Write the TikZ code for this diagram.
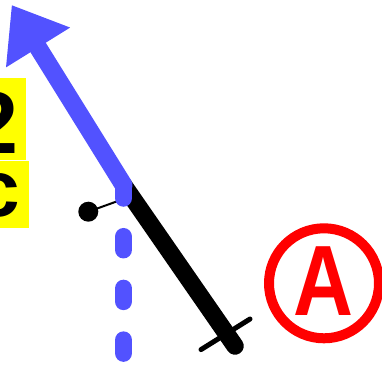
\documentclass[tikz,border=0pt]{standalone}
\usepackage{fontspec}
\newfontfamily\lsans{Liberation Sans}
\usetikzlibrary{arrows.meta}
\definecolor{myblue}{RGB}{82,82,255}
\definecolor{myyellow}{RGB}{255,255,0}
\definecolor{myred}{RGB}{255,0,0}
\begin{document}
\begin{tikzpicture}[x=1pt,y=-1pt,
  thickblack/.style={line width=17.5pt, line cap=round, draw=black},
  tickline/.style={line width=5pt, line cap=round, draw=black},
  bluedash/.style={line width=17.5pt, line cap=round, draw=myblue, dash pattern=on 13pt off 38.7pt},
  bluearrow/.style={line width=18pt, line cap=round, draw=myblue, fill=myblue,
     -{Triangle[length=50pt,width=72pt]}},
  ylabel/.style={fill=myyellow, inner ysep=0pt, anchor=base east, text=black},
]
\useasboundingbox (0,0) rectangle (382,369);
\clip (0,0) rectangle (382,369);
% coordinates
\coordinate (top) at (123.5,185);
\coordinate (bot) at (235,346);
\coordinate (t1) at (201,349.6);
\coordinate (t2) at (250,319);
\coordinate (dashend) at (123.5,354);
\coordinate (tip) at (11.7,5);
\coordinate (p) at (123.5,199);
% black line and tick
\draw[thickblack] (top) -- (bot);
\draw[tickline] (t1) -- (t2);
% small dot with thin line
\node[circle, fill=black, minimum size=20pt, inner sep=0pt] (dot) at (88.3,211.7) {};
\draw[line width=2pt] (dot.center) -- (p);
% blue dashed vertical and blue arrow
\draw[bluedash] (top) -- (dashend);
\draw[bluearrow] (top) -- (tip);
% yellow labels
\node[ylabel, inner xsep=7.2pt, text height=75pt, text depth=7pt,
      font=\lsans\bfseries\fontsize{88}{88}\selectfont] (two) at (26,153) {2};
\node[ylabel, inner xsep=9.3pt, text height=55pt, text depth=12pt,
      font=\lsans\bfseries\fontsize{80}{80}\selectfont] (cee) at (29.3,216) {c};
% circled A
\node[circle, draw=myred, fill=white, line width=10pt, minimum size=110pt, inner sep=0pt] (circ) at (324,283.3) {};
\node[anchor=base, inner sep=0pt, text=myred,
      font=\lsans\bfseries\fontsize{100}{100}\selectfont] (A) at (323.3,315) {\scalebox{0.83}[1]{A}};
\end{tikzpicture}
\end{document}
